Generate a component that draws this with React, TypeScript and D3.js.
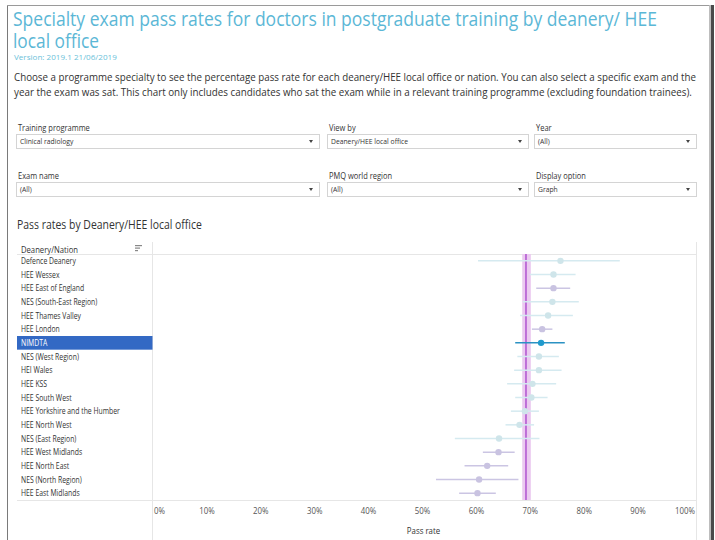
import React from "react";
import * as d3 from "d3";

const titleLines = [
  "Specialty exam pass rates for doctors in postgraduate training by deanery/ HEE",
  "local office",
];
const versionText = "Version: 2019.1 21/06/2019";
const descLines = [
  "Choose a programme specialty to see the percentage pass rate for each deanery/HEE local office or nation. You can also select a specific exam and the",
  "year the exam was sat. This chart only includes candidates who sat the exam while in a relevant training programme (excluding foundation trainees).",
];
const filterLabels = ["Training programme", "View by", "Year", "Exam name", "PMQ world region", "Display option"];
const filterValues = ["Clinical radiology", "Deanery/HEE local office", "(All)", "(All)", "(All)", "Graph"];

const deaneries = [
  "Defence Deanery",
  "HEE Wessex",
  "HEE East of England",
  "NES (South-East Region)",
  "HEE Thames Valley",
  "HEE London",
  "NIMDTA",
  "NES (West Region)",
  "HEI Wales",
  "HEE KSS",
  "HEE South West",
  "HEE Yorkshire and the Humber",
  "HEE North West",
  "NES (East Region)",
  "HEE West Midlands",
  "HEE North East",
  "NES (North Region)",
  "HEE East Midlands",
];
const passRate = [75.6, 74.3, 74.3, 74.1, 73.3, 72.2, 72.0, 71.6, 71.6, 70.4, 70.2, 69.0, 68.0, 64.2, 64.1, 62.0, 60.5, 60.2];
const lowerCI = [60.3, 69.9, 71.1, 68.6, 68.1, 70.3, 67.2, 67.6, 67.0, 65.7, 67.2, 66.4, 65.4, 56.0, 61.2, 57.8, 52.5, 56.8];
const upperCI = [86.6, 78.4, 77.4, 79.0, 77.9, 74.1, 76.4, 75.3, 75.8, 74.8, 73.2, 71.6, 70.7, 71.7, 67.1, 65.9, 67.8, 63.6];
// "n" = not significantly different, "d" = significantly different, "s" = selected
const status = ["n", "n", "d", "n", "n", "d", "s", "n", "n", "n", "n", "n", "n", "n", "d", "d", "d", "d"];
const overallRate = 69.2;
const overallLow = 68.5;
const overallHigh = 70.1;
const selected = "NIMDTA";
const xTicks = [0, 10, 20, 30, 40, 50, 60, 70, 80, 90, 100];

const FAMILY = "'Open Sans'";
const FONT = "'Open Sans', 'Noto Sans', sans-serif";

const dotColor: Record<string, string> = { n: "#cfe5ea", d: "#c9c3e1", s: "#1f9acd" };
const lineColor: Record<string, string> = { n: "#d5eaf0", d: "#cbc5e3", s: "#2b92c3" };

let ctx: CanvasRenderingContext2D | null = null;
function measure(text: string, size: number): number {
  if (!ctx) ctx = document.createElement("canvas").getContext("2d");
  if (!ctx) return text.length * size * 0.5;
  ctx.font = `${size}px ${FAMILY}, sans-serif`;
  return ctx.measureText(text).width || text.length * size * 0.5;
}
function factor(sample: string, size: number, target: number) {
  return target / measure(sample, size);
}

type TProps = {
  x: number;
  y: number;
  sx: number;
  size: number;
  fill: string;
  anchor?: "start" | "middle" | "end";
  children: string;
};
function T({ x, y, sx, size, fill, anchor = "start", children }: TProps) {
  return (
    <text transform={`translate(${x},${y}) scale(${sx.toFixed(4)},1)`} fontSize={size} fill={fill} textAnchor={anchor}>
      {children}
    </text>
  );
}

export default function App() {
  const W = 715;
  const H = 540;
  const x = d3.scaleLinear().domain([0, 100]).range([153, 692]);
  const y = d3.scaleBand<string>().domain(deaneries).range([254, 500]).padding(0);
  const bw = y.bandwidth();

  const boxes = [
    { x: 16, w: 303 },
    { x: 327, w: 201 },
    { x: 534, w: 162 },
  ];

  const fTitle = [factor(titleLines[0], 20, 644), factor(titleLines[1], 20, 86)];
  const fVer = factor(versionText, 8, 103);
  const fDesc = [factor(descLines[0], 10.5, 683), factor(descLines[1], 10.5, 679)];
  const fRow = factor("HEE Yorkshire and the Humber", 8.5, 99);
  const fFilt = factor("Training programme", 9, 72);
  const fVal = factor("Deanery/HEE local office", 8, 77);
  const fSec = factor("Pass rates by Deanery/HEE local office", 12, 185);
  const fHead = factor("Deanery/Nation", 9, 57);
  const fTick = factor("100%", 8.5, 20);

  return (
    <svg width={W} height={H} style={{ position: "absolute", left: 0, top: 0, background: "#fff" }} fontFamily={FONT}>
      {/* frame */}
      <line x1={7.5} y1={5} x2={7.5} y2={H} stroke="#7a7a7a" strokeWidth={1} />
      <line x1={7} y1={5.5} x2={712} y2={5.5} stroke="#9a9a9a" strokeWidth={1} />
      <rect x={709} y={5} width={2} height={H} fill="#bdbdbd" />
      <rect x={711} y={5} width={3} height={H} fill="#4a4a4a" />

      {/* title */}
      {titleLines.map((t, i) => (
        <T key={i} x={13} y={26 + i * 22} sx={fTitle[i]} size={20} fill="#5bb7d6">
          {t}
        </T>
      ))}
      <T x={14} y={60} sx={fVer} size={8} fill="#6bbfd9">
        {versionText}
      </T>
      {descLines.map((t, i) => (
        <T key={i} x={14} y={81 + i * 15} sx={fDesc[i]} size={10.5} fill="#333">
          {t}
        </T>
      ))}

      {/* filters */}
      {filterLabels.map((lab, i) => {
        const col = i % 3;
        const row = Math.floor(i / 3);
        const bx = boxes[col];
        const ly = 131 + row * 48;
        const by = 134 + row * 48;
        return (
          <g key={i}>
            <T x={bx.x + 2} y={ly} sx={fFilt} size={9} fill="#333">
              {lab}
            </T>
            <rect x={bx.x + 0.5} y={by + 0.5} width={bx.w} height={14} fill="#fff" stroke="#d4d4d4" />
            <T x={bx.x + 4} y={by + 10} sx={fVal} size={8} fill="#333">
              {filterValues[i]}
            </T>
            <path d={`M${bx.x + bx.w - 10},${by + 6} l4,0 l-2,3 z`} fill="#444" />
          </g>
        );
      })}

      {/* section title */}
      <T x={17} y={229} sx={fSec} size={12} fill="#333">
        Pass rates by Deanery/HEE local office
      </T>

      {/* table structure */}
      <line x1={17} y1={254.5} x2={697} y2={254.5} stroke="#e6e6e6" />
      <line x1={17} y1={500.5} x2={697} y2={500.5} stroke="#e6e6e6" />
      <line x1={152.5} y1={242} x2={152.5} y2={H} stroke="#e6e6e6" />
      <line x1={696.5} y1={242} x2={696.5} y2={H} stroke="#e6e6e6" />
      <T x={21} y={252.5} sx={fHead} size={9} fill="#333">
        Deanery/Nation
      </T>
      <g fill="#888">
        <rect x={135} y={245} width={7} height={1.2} />
        <rect x={135} y={247.5} width={5} height={1.2} />
        <rect x={135} y={250} width={3} height={1.2} />
      </g>

      {/* selected row highlight */}
      <rect x={17} y={y(selected)!} width={135.5} height={bw} fill="#3369c4" />

      {deaneries.map((d) => (
        <T key={d} x={21} y={y(d)! + bw / 2 + 3} sx={fRow} size={8.5} fill={d === selected ? "#fff" : "#333"}>
          {d}
        </T>
      ))}

      {/* overall reference band & line */}
      <rect x={x(overallLow)} y={254} width={x(overallHigh) - x(overallLow)} height={246} fill="#ebcaf0" />
      <line x1={x(overallRate)} x2={x(overallRate)} y1={254} y2={500} stroke="#b052d0" strokeWidth={1.5} />

      {/* CI lines & points */}
      {deaneries.map((d, i) => {
        const cy = y(d)! + bw / 2;
        const s = status[i];
        return (
          <g key={d}>
            <line x1={x(lowerCI[i])} x2={x(upperCI[i])} y1={cy} y2={cy} stroke={lineColor[s]} strokeWidth={1.5} />
            <circle cx={x(passRate[i])} cy={cy} r={3.2} fill={dotColor[s]} />
          </g>
        );
      })}

      {/* x axis labels */}
      {xTicks.map((t, i) => (
        <T
          key={t}
          x={i === 0 ? x(t) + 1 : i === xTicks.length - 1 ? x(t) + 3 : x(t)}
          y={514}
          sx={fTick}
          size={8.5}
          fill="#555"
          anchor={i === 0 ? "start" : i === xTicks.length - 1 ? "end" : "middle"}
        >
          {`${t}%`}
        </T>
      ))}
      <T x={(x(0) + x(100)) / 2 + 1} y={534} sx={fTick} size={8.5} fill="#333" anchor="middle">
        Pass rate
      </T>
    </svg>
  );
}
